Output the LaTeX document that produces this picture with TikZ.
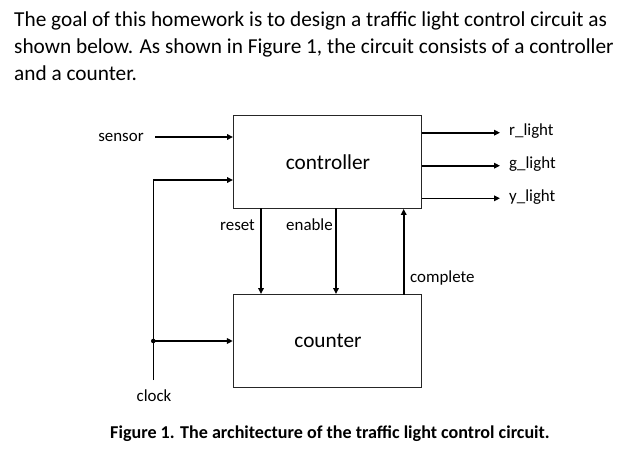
\documentclass[tikz,border=0pt]{standalone}
\usepackage{fontspec}
\setmainfont{Carlito}
\usetikzlibrary{arrows.meta}
\begin{document}
\begin{tikzpicture}[x=1pt,y=-1pt,
  blk/.style={draw=black!85,line width=1.3pt,minimum width=188pt,minimum height=93pt,inner sep=0pt},
  blkt/.style={inner sep=0pt,font=\fontsize{21.3}{24}\selectfont},
  lbl/.style={inner sep=0pt,font=\fontsize{16.9}{19}\selectfont},
  sig/.style={line width=1.6pt,-{Triangle[length=6pt,width=5.5pt]}},
  para/.style={inner sep=0pt,anchor=base west,font=\fontsize{21.3}{24}\selectfont}]
\useasboundingbox (0,0) rectangle (627,455);
\node[para] (t1) at (14,26) {The goal of this homework is to design a traffic light control circuit as};
\node[para] (t2) at (14,53.3) {shown below. As shown in Figure 1, the circuit consists of a controller};
\node[para] (t3) at (14,80.6) {and a counter.};
\node[blk] (ctrl) at (327.7,161.7) {};
\node[blkt] (ctrlt) at (328,162) {controller};
\node[blk] (cnt) at (327.5,341.2) {};
\node[blkt] (cntt) at (328,341) {counter};
% sensor
\node[lbl] (sensor) at (121,137) {sensor};
\coordinate (sstart) at (155,137);
\draw[sig] (sstart) -- (sstart -| ctrl.west);
% clock
\node[lbl] (clock) at (154,396) {clock};
\coordinate (cbot) at (153.3,380);
\coordinate (ctop) at (153.3,180);
\coordinate (cj) at (153.3,341);
\draw[line width=1.6pt] (cbot) -- (ctop);
\draw[sig] (ctop) -- (ctop -| ctrl.west);
\draw[sig] (cj) -- (cj -| cnt.west);
\fill (cj) circle (2.3pt);
% reset / enable
\coordinate (rs) at (261,208.3);
\coordinate (en) at (336,208.3);
\draw[sig] (rs) -- (rs |- cnt.north);
\draw[sig] (en) -- (en |- cnt.north);
\node[lbl] (resetl) at (237.5,225) {reset};
\node[lbl] (enablel) at (309.5,225) {enable};
% complete
\coordinate (cp) at (403.7,294.5);
\draw[sig] (cp) -- (cp |- ctrl.south);
\node[lbl,anchor=west] (completel) at (410,278) {complete};
% outputs
\foreach \y/\t/\n in {132.7/r\_light/r, 165.7/g\_light/g, 198.3/y\_light/y}{
  \coordinate (o\n) at (421.7,\y);
  \coordinate (e\n) at (500,\y);
  \draw[sig] (o\n) -- (e\n);
  \node[lbl,anchor=west] (l\n) at (509,\y-1.5) {\t};
}
% caption
\node[inner sep=0pt,anchor=base,font=\bfseries\fontsize{18.1}{21}\selectfont] (cap) at (330,438) {Figure 1. The architecture of the traffic light control circuit.};
\end{tikzpicture}
\end{document}
